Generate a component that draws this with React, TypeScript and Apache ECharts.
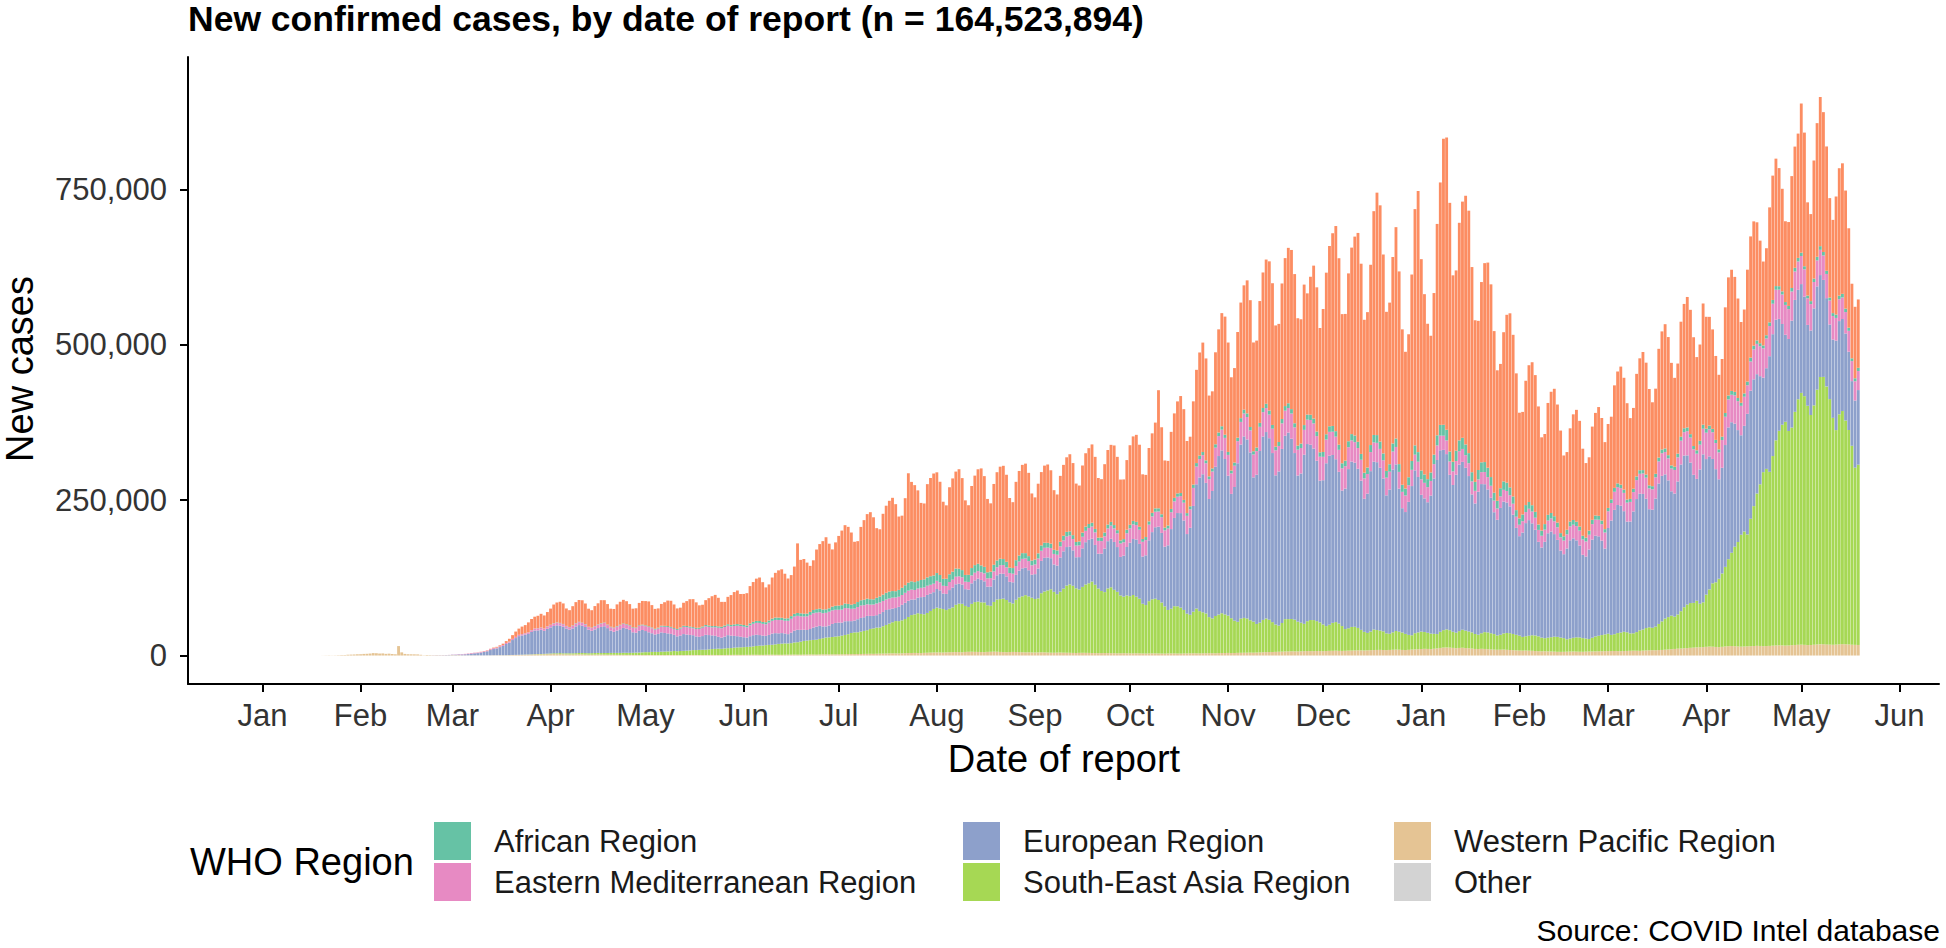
import React, { useEffect, useRef } from "react";
import * as echarts from "echarts";

// Daily new confirmed cases by date of report, in thousands.
// Each region's array starts on its own start date (one value per day).

const WPR_START = "2020-01-20";
const WESTERN_PACIFIC = [
  0.1,0.2,0.3,0.2,0.3,0.5,0.7,0.8,1.3,1.5,1.7,2.0,
  2.1,2.6,2.8,3.2,3.9,3.7,3.2,3.4,2.7,3.0,2.5,2.0,15.2,5.1,2.6,2.1,2.0,1.9,1.8,1.2,0.4,0.9,0.6,0.4,0.5,0.4,0.4,0.3,0.4,
  0.6,0.4,0.6,0.3,0.3,0.3,0.3,0.3,0.3,0.2,0.2,0.3,0.3,0.4,0.4,0.5,0.4,0.5,0.6,0.8,0.9,1.0,1.1,1.3,1.4,1.5,1.8,2.0,1.9,2.0,2.1,
  2.2,2.3,2.1,2.3,2.0,1.9,1.8,1.7,1.8,1.9,1.8,1.6,1.5,1.4,1.5,1.6,1.5,1.4,1.3,1.3,1.2,1.1,1.0,1.1,1.0,1.0,0.9,0.9,0.8,0.9,
  0.9,0.8,0.8,0.7,0.7,0.8,0.7,0.8,0.8,0.9,0.7,0.8,0.7,0.8,0.8,0.9,0.8,0.8,0.7,0.8,0.9,1.0,0.9,0.9,0.8,0.9,1.0,1.0,1.1,1.1,1.0,
  1.0,1.1,1.1,1.2,1.2,1.1,1.0,1.2,1.3,1.3,1.2,1.2,1.1,1.3,1.4,1.4,1.5,1.4,1.3,1.5,1.6,1.7,1.6,1.5,1.7,1.8,1.9,1.8,1.8,1.9,
  2.0,2.0,2.1,2.3,2.3,2.2,2.4,2.5,2.6,2.7,2.8,2.7,2.9,3.0,3.1,3.2,3.4,3.5,3.4,3.3,3.6,3.8,4.0,4.1,4.2,4.0,3.9,4.3,4.5,4.7,4.9,
  5.0,4.9,4.8,5.1,5.3,5.4,5.6,5.5,5.2,5.8,6.0,6.1,5.9,5.8,5.6,5.4,5.9,6.0,6.2,6.1,5.8,5.5,5.3,5.6,5.8,5.7,5.5,5.3,5.1,5.2,5.0,
  4.9,5.0,5.2,5.1,4.8,4.6,4.5,4.7,4.8,4.6,4.5,4.4,4.2,4.1,4.3,4.4,4.3,4.2,4.0,3.9,3.8,3.9,4.0,3.9,3.8,3.7,3.5,3.6,3.7,3.6,
  3.5,3.4,3.6,3.5,3.3,3.2,3.4,3.5,3.4,3.3,3.2,3.1,3.3,3.4,3.3,3.2,3.1,3.3,3.4,3.5,3.6,3.5,3.4,3.6,3.7,3.8,3.7,3.6,3.9,4.0,4.1,
  4.2,4.0,4.1,4.3,4.4,4.5,4.6,4.7,4.6,4.8,5.0,5.3,5.5,5.6,5.7,5.9,6.1,6.3,6.5,6.6,6.8,6.7,6.6,6.8,7.0,7.2,7.1,7.0,7.3,7.2,
  7.0,7.3,7.5,7.6,7.8,7.5,7.4,7.6,7.9,8.0,8.2,8.4,8.3,8.1,8.4,8.6,8.8,9.0,9.1,8.9,8.7,9.0,9.3,9.5,9.4,9.0,8.8,9.2,9.6,9.9,10.2,
  10.5,10.8,10.6,10.3,10.9,11.5,12.2,12.8,13.0,12.7,12.3,11.8,12.2,12.5,12.0,11.7,11.2,10.6,10.5,10.8,10.6,10.2,9.8,9.5,9.3,9.4,9.6,9.2,8.9,8.6,8.3,
  8.0,7.9,8.0,7.8,7.6,7.2,6.9,6.8,6.9,6.7,6.5,6.3,6.0,5.9,6.0,6.2,6.4,6.5,6.3,6.1,6.0,6.3,6.5,6.6,6.7,6.8,6.9,7.0,
  7.1,7.2,7.3,7.1,7.0,7.2,7.4,7.6,7.8,7.7,7.5,7.9,8.2,8.4,8.6,8.5,8.8,9.0,9.4,9.8,10.2,10.6,11.0,11.3,11.7,12.0,12.4,12.7,13.1,13.3,13.6,
  14.0,14.4,14.2,13.8,13.5,14.0,14.6,15.0,15.3,15.0,14.6,14.3,14.5,14.8,15.0,15.3,15.6,15.4,15.0,15.2,15.5,15.9,16.2,16.5,16.3,16.0,16.2,16.6,17.0,17.3,
  17.5,17.2,16.8,16.9,17.4,17.8,18.0,18.2,17.9,17.5,17.3,17.6,18.0,18.3,18.1,17.8,17.4,17.2,17.0,
];

const SEAR_START = "2020-03-01";
const SOUTH_EAST_ASIA = [
  0.01,0,0.01,0.02,0.01,0.02,0.01,0.02,0.02,0.03,0.02,0.03,0.03,0.04,0.05,0.06,0.07,0.08,0.1,0.12,0.15,0.2,0.25,0.3,0.35,0.4,0.45,0.5,0.6,0.7,0.9,
  1.1,1.3,1.5,1.6,1.5,1.7,1.8,1.9,2.0,2.1,2.2,2.3,2.2,2.4,2.5,2.6,2.5,2.7,2.8,2.9,3.0,3.1,3.2,3.3,3.4,3.3,3.5,3.8,4.0,4.2,
  4.5,4.6,5.0,5.2,5.1,5.4,5.6,5.8,6.0,6.4,6.2,6.5,6.8,7.0,7.4,7.8,8.0,8.3,8.6,8.5,9.0,9.4,9.8,10.2,10.0,10.5,10.8,11.0,11.5,12.0,12.2,
  12.5,12.8,13.0,13.5,14.2,14.8,15.0,15.5,15.8,16.0,16.8,17.5,18.0,18.2,18.0,18.5,19.5,20.0,21.0,22.0,22.5,23.0,23.5,24.0,25.0,26.0,27.0,27.5,28.0,28.5,
  29,30,31,32,34,35,35,36,37,38,40,41,42,42,44,46,48,50,52,52,53,55,58,61,62,64,63,62,64,67,70,
  72,71,70,68,70,72,76,78,78,74,72,77,80,81,80,80,75,74,80,84,85,86,84,80,78,84,88,90,92,90,88,
  86,87,95,98,100,102,98,94,98,103,108,110,108,104,102,106,110,112,115,110,104,100,98,104,106,102,99,93,91,93,
  92,94,91,88,80,78,84,87,88,86,82,76,70,72,76,76,74,70,64,62,67,72,68,66,64,58,56,60,62,64,62,
  60,56,52,50,55,56,55,52,50,46,48,52,54,52,48,44,42,46,52,52,52,51,48,46,44,48,50,50,48,46,
  43,40,42,45,46,44,40,35,36,38,38,36,33,30,28,30,33,32,31,30,27,26,28,30,29,28,26,24,23,26,27,
  28,27,26,25,24,23,26,28,29,28,26,25,27,29,28,27,26,24,23,25,27,27,26,25,23,24,26,27,27,26,25,
  24,22,23,24,25,25,24,22,21,22,23,24,24,23,22,20,21,22,23,23,22,21,20,22,24,25,26,27,
  28,26,27,29,30,31,30,28,28,30,33,34,36,37,36,38,42,46,50,52,54,52,55,60,66,70,72,72,75,70,72,
  84,92,102,104,110,118,128,140,150,160,168,180,185,180,205,225,245,260,280,285,280,305,330,345,355,360,345,350,375,395,
  405,400,385,370,385,410,430,430,415,395,365,345,370,375,360,345,320,285,290,
];

const EUR_START = "2020-02-21";
const EUROPEAN = [
  0.02,0.05,0.1,0.15,0.2,0.25,0.3,0.4,0.5,
  0.6,0.8,1.0,1.3,1.6,2.0,2.6,3.2,3.6,4.5,5.5,6.5,8.5,10,11,13,15,18,20,24,27,30,31,32,33,36,38,38,39,37,40,
  42,44,45,44,43,40,38,40,43,45,44,42,38,36,38,40,42,43,40,36,34,36,38,40,39,37,33,32,35,36,
  34,32,30,28,29,31,30,29,28,26,24,25,27,26,25,24,22,21,22,24,23,22,21,19,18,19,21,20,19,18,17,
  16,15,17,18,18,17,16,15,16,18,18,17,17,16,15,17,19,20,19,18,17,18,20,21,21,19,18,19,21,22,
  22,21,22,21,19,19,21,22,22,23,21,20,20,22,23,24,23,22,21,23,25,26,26,25,24,25,27,28,29,28,27,
  30,29,25,26,30,32,33,32,31,27,28,33,35,37,36,34,30,31,36,39,41,40,38,33,34,40,43,45,44,42,37,
  40,48,52,54,53,50,44,46,55,60,62,61,57,50,52,62,68,70,69,64,56,60,70,76,78,77,72,62,66,78,
  86,90,92,88,76,80,98,108,115,118,112,96,104,128,142,150,152,144,128,140,170,200,215,222,210,190,205,240,255,262,250,
  225,200,215,255,280,292,288,270,232,240,276,295,300,292,272,240,248,280,295,300,290,268,235,240,272,285,282,276,258,228,
  232,262,272,270,262,244,218,226,256,266,264,256,240,214,224,258,270,270,262,246,222,232,262,268,230,200,196,214,240,262,250,
  220,215,210,222,250,280,292,290,282,250,236,254,268,270,262,250,222,210,230,240,238,230,218,196,186,204,212,210,204,192,172,
  160,168,182,186,180,170,152,145,155,168,170,165,156,140,135,146,158,160,156,148,134,132,144,158,162,160,152,138,
  170,184,200,206,204,194,178,180,196,214,220,218,208,190,190,206,226,234,232,220,200,198,214,236,244,240,226,206,196,216,238,
  218,214,200,182,160,170,196,212,210,198,180,160,170,194,206,204,192,174,152,162,186,196,194,180,162,140,148,172,180,176,
  175,160,130,136,156,166,164,156,142,120,126,144,150,148,140,126,104,108,120,
];

const EMR_START = "2020-02-20";
const EASTERN_MEDITERRANEAN = [
  0.01,0.02,0.03,0.05,0.1,0.08,0.1,0.12,0.15,0.2,
  0.3,0.4,0.5,0.6,0.7,0.8,1.0,0.9,0.8,1.0,1.0,1.1,1.3,1.4,1.3,1.3,1.4,1.6,1.7,1.8,1.9,2.0,2.1,2.2,2.4,2.7,3.0,3.2,3.3,3.5,3.6,
  3.8,4.0,4.2,4.1,3.9,3.6,3.8,4.2,4.5,4.7,4.4,4.2,4.0,4.4,4.8,5.1,5.4,5.2,4.9,5.3,5.8,6.2,6.5,6.3,6.0,6.4,6.9,7.3,7.7,7.5,
  7.9,8.4,8.1,7.8,8.6,9.3,9.9,10.2,9.8,9.4,10.3,11.0,11.6,11.9,11.5,11.2,12.0,12.8,13.4,13.7,13.2,12.9,13.8,14.6,15.2,15.5,15.1,14.8,15.9,16.8,17.2,
  16.9,16.5,17.6,18.4,19.1,19.5,19.0,18.6,19.8,20.6,21.2,21.4,20.9,20.5,21.5,22.2,22.6,22.4,21.8,21.2,22.0,22.6,22.9,22.5,21.9,21.3,21.8,22.2,21.9,21.2,
  20.6,20.9,21.3,20.7,19.9,19.3,19.6,20.0,19.4,18.7,18.1,18.4,18.8,18.3,17.6,17.0,17.3,17.6,17.0,16.3,15.8,16.1,16.4,15.9,15.2,14.7,15.0,15.3,14.8,14.1,13.7,
  13.2,12.8,12.4,12.7,13.0,12.6,12.2,11.9,11.6,12.0,12.4,12.7,12.3,12.0,12.4,12.8,13.2,13.5,13.1,12.9,13.5,14.0,14.4,14.2,13.9,14.3,14.8,15.2,15.0,14.7,15.1,
  15.6,16.1,16.4,16.2,15.8,16.3,16.9,17.4,17.8,17.5,17.1,17.6,18.2,18.7,19.0,18.7,18.3,18.9,19.6,20.2,20.6,20.2,19.8,20.5,21.2,21.8,22.1,21.7,21.4,22.2,
  23.0,23.6,23.3,22.9,23.7,24.5,25.1,25.3,24.9,24.5,25.4,26.3,27.0,27.2,26.7,26.3,27.4,28.5,29.3,29.6,29.0,28.5,29.7,30.8,31.6,31.9,31.3,30.8,32.1,33.3,34.0,
  33.5,33.0,34.2,35.5,36.4,36.8,36.1,35.5,36.8,38.0,38.9,39.2,38.6,38.0,39.2,40.3,41.0,41.2,40.4,39.6,40.5,41.3,41.6,41.0,40.0,39.2,39.8,40.3,39.7,38.6,
  37.6,38.1,38.3,37.4,36.3,35.4,35.8,36.0,35.2,34.0,33.1,33.4,33.6,32.8,31.6,30.7,31.0,31.1,30.3,29.2,28.4,28.7,28.8,28.0,27.0,26.3,26.6,26.8,26.1,25.2,24.6,
  24.9,25.0,24.3,23.5,23.0,23.4,23.5,22.8,22.0,21.5,21.9,22.1,21.5,20.8,20.3,20.7,20.9,20.3,19.7,19.2,19.6,19.8,19.3,18.7,18.2,18.6,18.9,18.5,18.0,17.6,18.0,
  18.4,18.2,17.8,18.3,19.0,19.5,19.2,18.9,19.6,20.4,21.0,20.7,20.3,21.1,22.0,22.7,22.4,22.0,22.9,23.9,24.6,24.3,23.8,24.8,25.9,26.7,26.4,25.9,
  27.0,28.2,29.1,28.8,28.2,29.4,30.6,31.5,31.1,30.5,31.8,33.0,33.9,33.5,32.9,34.2,35.5,36.4,36.0,35.3,36.6,37.9,38.8,38.3,37.6,38.9,40.2,41.1,40.6,39.9,41.2,
  42.5,43.4,42.9,42.1,43.3,44.6,45.5,45.0,44.2,45.4,46.6,47.4,46.8,46.0,47.0,48.1,48.7,48.0,47.1,47.8,48.6,49.0,48.2,47.1,47.5,48.0,48.1,47.0,45.8,45.6,
  45.2,44.1,42.7,42.4,42.5,41.8,40.6,39.3,38.9,38.7,37.8,36.5,35.2,34.7,34.4,33.5,32.2,31.0,30.6,
];

const AFR_START = "2020-03-01";
const AFRICAN = [
  0,0,0,0,0,0,0,0,0,0,0.01,0.01,0.02,0.02,0.03,0.03,0.04,0.05,0.06,0.08,0.1,0.1,0.12,0.15,0.18,0.2,0.22,0.25,0.3,0.28,0.35,
  0.4,0.45,0.5,0.48,0.42,0.5,0.55,0.6,0.62,0.58,0.52,0.6,0.65,0.7,0.75,0.72,0.66,0.74,0.8,0.86,0.9,0.88,0.8,0.9,1.0,1.05,1.1,1.02,1.15,1.2,
  1.3,1.25,1.2,1.35,1.4,1.5,1.55,1.6,1.5,1.45,1.6,1.7,1.8,1.85,1.9,1.8,1.75,1.9,2.0,2.1,2.2,2.1,2.05,2.2,2.3,2.4,2.5,2.45,2.6,2.7,2.6,
  2.7,2.9,3.0,3.1,3.2,3.1,3.0,3.3,3.5,3.6,3.8,3.9,3.7,3.6,4.0,4.3,4.5,4.6,4.8,4.6,4.4,4.9,5.2,5.5,5.7,5.9,5.6,5.4,6.0,6.4,
  6.8,7.1,7.3,7.0,6.7,7.5,8.0,8.4,8.8,9.1,8.7,8.3,9.2,9.8,10.3,10.8,11.2,10.6,10.1,11.0,11.6,12.2,12.8,13.3,12.7,12.0,12.6,13.0,13.4,13.8,13.2,
  12.5,11.8,11.2,11.8,12.4,12.9,13.1,12.3,11.6,10.8,11.4,11.9,12.2,11.8,11.0,10.4,9.8,10.3,10.7,10.9,10.5,9.7,9.1,8.6,9.0,9.4,9.6,9.2,8.6,8.0,7.6,
  7.9,8.3,8.5,8.2,7.7,7.1,6.6,7.0,7.4,7.6,7.3,6.8,6.2,5.8,6.2,6.6,6.8,6.5,6.0,5.5,5.2,5.6,6.0,6.2,5.9,5.4,5.0,4.8,5.2,5.6,
  5.8,5.5,5.1,4.7,4.5,4.9,5.3,5.6,5.4,5.0,4.6,4.4,4.8,5.2,5.5,5.3,4.9,4.5,4.4,4.9,5.3,5.6,5.4,5.0,4.6,4.5,5.0,5.4,5.7,5.5,5.1,
  4.8,4.6,5.1,5.6,6.0,6.2,5.8,5.4,5.2,5.8,6.3,6.7,6.9,6.5,6.0,5.8,6.4,7.0,7.4,7.6,7.1,6.6,6.4,7.1,7.7,8.2,8.4,7.9,7.3,7.1,
  7.8,8.5,9.0,9.3,8.8,8.2,8.0,8.9,9.6,10.2,10.6,10.0,9.4,9.2,10.4,11.3,12.0,12.5,11.8,11.0,10.8,12.0,13.0,13.6,12.5,11.4,11.2,12.8,14.2,15.0,15.4,
  14.2,13.5,12.8,13.6,15.2,16.4,17.3,17.8,17.2,16.0,15.4,16.6,17.4,17.9,17.3,16.2,14.8,14.4,15.2,15.8,16.0,15.1,14.0,12.7,12.3,13.1,13.6,13.4,12.6,11.7,10.6,
  10.2,10.8,11.2,10.9,10.2,9.4,8.6,8.3,8.9,9.2,8.8,8.1,7.5,6.9,6.8,7.4,7.7,7.5,7.0,6.5,6.1,6.0,6.6,6.9,6.7,6.2,5.8,5.4,
  5.3,5.8,6.2,6.0,5.6,5.2,4.9,4.8,5.4,5.9,5.8,5.4,5.0,4.8,4.9,5.6,6.1,6.0,5.6,5.2,5.0,5.2,5.9,6.4,6.3,5.9,5.5,5.2,5.4,6.1,6.5,
  6.4,6.0,5.5,5.0,4.8,5.4,6.0,6.3,6.1,5.7,5.1,4.8,5.3,5.9,6.2,6.0,5.6,5.0,4.7,5.2,5.8,6.1,5.9,5.5,5.0,4.6,5.0,5.6,5.9,5.7,
  5.3,4.9,4.5,4.8,5.4,5.8,5.9,5.6,5.1,4.6,4.7,5.3,5.7,5.8,5.5,5.0,4.5,4.8,5.2,
];

const AMR_START = "2020-03-01";
const AMERICAS = [
  0.02,0.03,0.04,0.05,0.08,0.1,0.12,0.15,0.2,0.3,0.4,0.5,0.7,0.9,1.2,1.5,2.2,3.0,4.5,6.0,8.5,10,12,13,16,18,19,20,22,21,23,
  26,30,32,34,33,28,27,31,34,35,36,33,29,28,32,34,37,36,33,29,30,35,37,38,37,34,30,31,36,38,
  39,40,36,32,31,35,38,41,42,38,33,32,37,40,44,45,41,36,35,40,44,48,50,46,40,38,44,48,52,54,49,
  50,52,60,64,68,70,64,56,58,66,72,76,78,72,64,66,76,112,86,88,82,74,80,96,104,110,116,104,92,102,
  112,120,126,124,116,100,98,118,128,136,140,132,112,108,130,140,146,150,140,118,116,140,176,160,156,146,124,122,150,158,164,
  162,150,124,118,140,150,156,160,148,120,112,132,144,152,156,146,118,110,130,142,148,150,140,112,106,126,136,142,144,134,108,
  100,112,118,124,126,118,96,90,106,114,120,124,116,94,90,108,118,122,126,116,96,94,110,120,124,128,118,98,96,112,
  128,136,140,132,104,100,118,128,138,190,140,108,104,124,136,148,156,146,116,112,134,150,166,176,164,130,124,148,166,182,190,
  176,150,152,170,186,200,214,204,175,172,196,218,232,240,228,195,190,218,238,250,256,240,205,200,226,195,222,246,232,200,
  230,260,290,310,330,300,240,236,270,300,320,336,306,246,250,290,360,390,380,320,256,260,300,340,310,250,220,230,300,380,420,
  340,290,250,220,260,340,390,460,470,400,300,290,350,380,400,390,330,260,240,290,320,330,310,260,210,200,240,270,280,260,220,
  170,165,200,220,230,220,190,150,145,180,195,205,190,165,130,125,150,170,180,170,140,120,118,150,165,175,165,140,
  135,133,165,180,190,180,155,130,130,165,180,190,180,155,135,137,175,190,200,190,165,143,145,185,200,210,200,175,150,155,195,
  180,175,160,135,120,125,170,190,195,185,160,130,135,180,195,200,190,165,135,140,185,200,205,190,165,130,135,180,195,200,
  240,215,150,140,190,215,240,225,200,160,150,190,205,210,190,160,120,115,110,
];

const OTHER_START = "2020-01-03";
const OTHER: number[] = [];

const REGION_NAMES = [
  "Other",
  "Western Pacific Region",
  "South-East Asia Region",
  "European Region",
  "Eastern Mediterranean Region",
  "African Region",
  "Region of the Americas",
];
const REGION_COLORS = ["#D3D3D3", "#E5C494", "#A6D854", "#8DA0CB", "#E78AC3", "#66C2A5", "#FC8D62"];
const REGION_STARTS = [OTHER_START, WPR_START, SEAR_START, EUR_START, EMR_START, AFR_START, AMR_START];
const REGION_VALUES = [OTHER, WESTERN_PACIFIC, SOUTH_EAST_ASIA, EUROPEAN, EASTERN_MEDITERRANEAN, AFRICAN, AMERICAS];

const LEGEND_COLUMNS = [
  ["African Region", "Eastern Mediterranean Region"],
  ["European Region", "South-East Asia Region"],
  ["Western Pacific Region", "Other"],
];

const MONTH_LABELS = ["Jan", "Feb", "Mar", "Apr", "May", "Jun", "Jul", "Aug", "Sep", "Oct", "Nov", "Dec"];
const Y_TICKS = [0, 250000, 500000, 750000];
const AXIS_START = "2019-12-09";
const AXIS_END = "2021-06-13";

const TITLE = "New confirmed cases, by date of report (n = 164,523,894)";
const FONT = "'Liberation Sans', Arial, Helvetica, sans-serif";

function dayNum(s: string): number {
  const [y, m, d] = s.split("-").map(Number);
  return Math.round(Date.UTC(y, m - 1, d) / 86400000);
}
function dateStr(n: number): string {
  return new Date(n * 86400000).toISOString().slice(0, 10);
}

const CATEGORIES: string[] = [];
for (let n = dayNum(AXIS_START); n <= dayNum(AXIS_END); n++) CATEGORIES.push(dateStr(n));

function toSeriesData(start: string, vals: number[]): number[] {
  const out = new Array(CATEGORIES.length).fill(0);
  const off = dayNum(start) - dayNum(AXIS_START);
  vals.forEach((v, i) => {
    const k = off + i;
    if (k >= 0 && k < out.length) out[k] = Math.round(v * 1000);
  });
  return out;
}

const isMonthStart = (_i: number, v: string) => String(v).slice(8, 10) === "01";

export default function App() {
  const ref = useRef<HTMLDivElement>(null);
  useEffect(() => {
    if (!ref.current) return;
    const chart = echarts.init(ref.current, null, { renderer: "svg" });
    const axisLine = { color: "#000", width: 2 };
    const series = REGION_NAMES.map((name, i) => ({
      name,
      type: "bar",
      stack: "cases",
      data: toSeriesData(REGION_STARTS[i], REGION_VALUES[i]),
      barWidth: "90%",
      itemStyle: { color: REGION_COLORS[i], borderWidth: 0 },
      emphasis: { disabled: true },
      silent: true,
    }));
    const legendLefts = [434, 963, 1394];
    const legends = LEGEND_COLUMNS.map((items, i) => ({
      data: items,
      orient: "vertical",
      left: legendLefts[i],
      top: 822,
      itemWidth: 37,
      itemHeight: 38,
      itemGap: 3,
      icon: "rect",
      selectedMode: false,
      padding: 0,
      itemStyle: { borderWidth: 0 },
      textStyle: { fontSize: 31, color: "#1a1a1a", fontFamily: FONT, padding: [0, 0, 0, 18] },
    }));
    chart.setOption({
      animation: false,
      textStyle: { fontFamily: FONT },
      grid: { left: 188, right: 7, top: 57, bottom: 264, containLabel: false, outerBoundsMode: "none" },
      legend: legends,
      xAxis: {
        type: "category",
        data: CATEGORIES,
        boundaryGap: true,
        axisLine: { show: true, onZero: false, lineStyle: axisLine },
        axisTick: { show: true, alignWithLabel: true, interval: isMonthStart, length: 8, lineStyle: axisLine },
        axisLabel: {
          interval: isMonthStart,
          formatter: (v: string) => MONTH_LABELS[Number(v.slice(5, 7)) - 1],
          fontSize: 31,
          color: "#333",
          margin: 16,
          fontFamily: FONT,
        },
        splitLine: { show: false },
      },
      yAxis: {
        type: "value",
        min: -45800,
        max: 962800,
        axisLine: { show: true, lineStyle: axisLine },
        axisTick: { show: true, length: 8, lineStyle: axisLine, customValues: Y_TICKS },
        axisLabel: {
          customValues: Y_TICKS,
          formatter: (v: number) => Number(v).toLocaleString("en-US"),
          fontSize: 31,
          color: "#333",
          margin: 21,
          fontFamily: FONT,
        },
        splitLine: { show: false },
      },
      graphic: [
        {
          type: "text",
          x: 188,
          y: 19,
          style: { text: TITLE, fontSize: 35.5, lineHeight: 30, fontWeight: "bold", fontFamily: FONT, fill: "#000", align: "left", verticalAlign: "middle" },
        },
        {
          type: "text",
          x: 20,
          y: 369,
          rotation: Math.PI / 2,
          style: { text: "New cases", fontSize: 38, lineHeight: 30, fontFamily: FONT, fill: "#000", align: "center", verticalAlign: "middle" },
        },
        {
          type: "text",
          x: 1064,
          y: 759,
          style: { text: "Date of report", fontSize: 38, fontFamily: FONT, fill: "#000", align: "center", verticalAlign: "middle" },
        },
        {
          type: "text",
          x: 190,
          y: 862,
          style: { text: "WHO Region", fontSize: 38, fontFamily: FONT, fill: "#000", align: "left", verticalAlign: "middle" },
        },
        {
          type: "text",
          x: 1940,
          y: 930,
          style: { text: "Source: COVID Intel database", fontSize: 30, fontFamily: FONT, fill: "#000", align: "right", verticalAlign: "middle" },
        },
      ],
      series,
    });
    return () => chart.dispose();
  }, []);
  return <div ref={ref} style={{ position: "fixed", left: 0, top: 0, width: 1946, height: 948, background: "#fff" }} />;
}
